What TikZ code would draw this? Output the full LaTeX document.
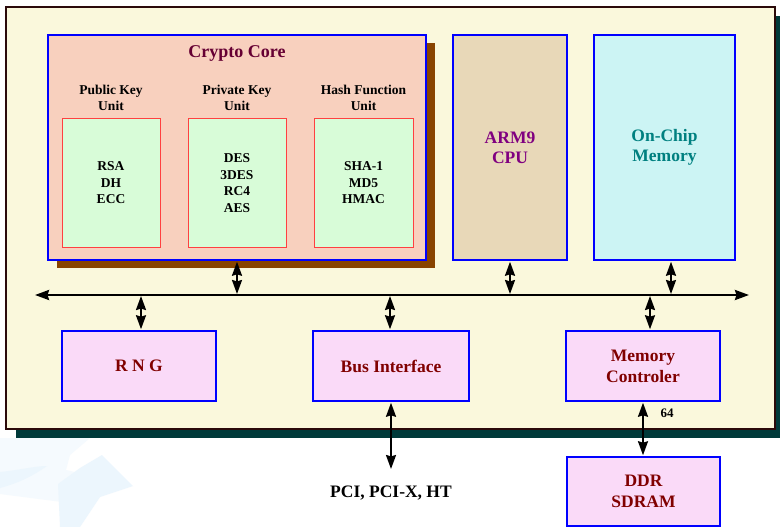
\documentclass[tikz,border=0pt]{standalone}
\usepackage{fontspec}
\setmainfont{Liberation Serif}
\usetikzlibrary{arrows.meta,shadows}
\definecolor{cream}{RGB}{250,248,220}
\definecolor{outerline}{RGB}{43,10,10}
\definecolor{tealshadow}{RGB}{0,58,58}
\definecolor{brownshadow}{RGB}{136,68,0}
\definecolor{salmon}{RGB}{248,208,190}
\definecolor{mint}{RGB}{216,252,216}
\definecolor{redline}{RGB}{255,64,64}
\definecolor{tan}{RGB}{232,216,184}
\definecolor{cyanfill}{RGB}{204,244,244}
\definecolor{pinkfill}{RGB}{250,218,248}
\definecolor{maroon}{RGB}{128,0,0}
\definecolor{titlecol}{RGB}{102,0,51}
\definecolor{purpletext}{RGB}{128,0,128}
\definecolor{tealtext}{RGB}{0,128,128}
\definecolor{wmA}{RGB}{245,250,254}
\definecolor{wmB}{RGB}{236,246,253}
\tikzset{
  bluebox/.style={draw={rgb,255:red,0;green,0;blue,255}, line width=1.5pt, rectangle, inner sep=0pt},
  unitbox/.style={draw=redline, line width=1pt, fill=mint, rectangle, inner sep=0pt,
     minimum width=98pt, minimum height=128pt, align=center, font=\fontsize{13.5}{16.5}\selectfont\bfseries},
  sublabel/.style={align=center, font=\fontsize{13.5}{16}\selectfont\bfseries},
  pinkbox/.style={bluebox, fill=pinkfill, minimum height=70pt, align=center, text=maroon,
     font=\fontsize{17.5}{21}\selectfont\bfseries},
  tipshape/.tip={Stealth[length=14pt 0 0,width=10pt 0 0,inset=1.5pt]},
  biarrow/.style={tipshape-tipshape, line width=2pt, shorten <=1pt, shorten >=1pt},
}
\begin{document}
\begin{tikzpicture}[x=1pt,y=-1pt]
\useasboundingbox (0,0) rectangle (780,527);
\fill[white] (0,0) rectangle (780,527);
% faint watermark
\fill[wmA] (0,438) -- (90,438) -- (70,455) -- (66,470) -- (110,480) -- (62,502) -- (0,494) -- cycle;
\fill[wmB] (80,468) -- (102,455) -- (133,486) -- (100,497) -- (80,527) -- (60,527) -- (58,484) -- cycle;
\fill[wmB] (0,472) .. controls (20,470) and (35,466) .. (47,466) .. controls (30,478) and (15,484) .. (0,488) -- cycle;
% outer board
\node[draw=outerline, line width=2.5pt, fill=cream, minimum width=769pt, minimum height=422pt,
      drop shadow={shadow xshift=10pt, shadow yshift=-9pt, opacity=1, fill=tealshadow}] (board) at (390.5,218) {};
% crypto core
\node[bluebox, fill=salmon, minimum width=378pt, minimum height=225pt,
      drop shadow={shadow xshift=9pt, shadow yshift=-8pt, opacity=1, fill=brownshadow}] (crypto) at (237,147.5) {};
\node[text=titlecol, font=\fontsize{18}{21}\selectfont\bfseries] (title) at (237,53) {Crypto Core};
\node[sublabel] (publab) at (111,98) {Public Key\\Unit};
\node[sublabel] (privlab) at (237,98) {Private Key\\Unit};
\node[sublabel] (hashlab) at (363.5,98) {Hash Function\\Unit};
\node[unitbox] (pub) at (111,183) {RSA\\DH\\ECC};
\node[unitbox] (priv) at (237,183) {DES\\3DES\\RC4\\AES};
\node[unitbox, minimum width=99pt] (hash) at (363.5,183) {SHA-1\\MD5\\HMAC};
% CPU and memory
\node[bluebox, fill=tan, minimum width=114pt, minimum height=225pt, align=center, text=purpletext,
      font=\fontsize{17.5}{20}\selectfont\bfseries] (arm) at (510,147.5) {ARM9\\CPU};
\node[bluebox, fill=cyanfill, minimum width=141pt, minimum height=225pt, align=center, text=tealtext,
      font=\fontsize{17.5}{20}\selectfont\bfseries] (onchip) at (664.5,147.5) {On-Chip\\Memory};
% bottom row
\node[pinkbox, minimum width=154pt] (rng) at (139,366) {R N G};
\node[pinkbox, minimum width=156pt] (bi) at (391,366) {Bus Interface};
\node[pinkbox, minimum width=154pt] (mc) at (643,366) {Memory\\Controler};
\node[pinkbox, minimum width=153pt, minimum height=69pt] (ddr) at (643.5,491.5) {DDR\\SDRAM};
% bus
\coordinate (busL) at (35,295);
\coordinate (busR) at (749,295);
\draw[{Stealth[length=14pt 0 0,width=10pt 0 0,inset=1.5pt]}-{Stealth[length=14pt 0 0,width=10pt 0 0,inset=1.5pt]}, line width=2.5pt] (busL) -- (busR);
% connectors
\draw[biarrow] (crypto.south) -- (crypto.south |- busL);
\draw[biarrow] (arm.south) -- (arm.south |- busL);
\draw[biarrow] ([xshift=6.5pt]onchip.south) -- ([xshift=6.5pt]onchip.south |- busL);
\draw[biarrow] ([xshift=2pt]rng.north) -- ([xshift=2pt]rng.north |- busL);
\draw[biarrow] ([xshift=-1pt]bi.north) -- ([xshift=-1pt]bi.north |- busL);
\draw[biarrow] ([xshift=7pt]mc.north) -- ([xshift=7pt]mc.north |- busL);
\coordinate (pci) at (391,470);
\draw[biarrow] (bi.south) -- (pci);
\draw[biarrow] (mc.south) -- (ddr.north -| mc.south);
\node[font=\fontsize{17.5}{21}\selectfont\bfseries] (pcitext) at (391,493) {PCI, PCI-X, HT};
\node[font=\fontsize{13}{15}\selectfont\bfseries] (w64) at (667,413) {64};
\end{tikzpicture}
\end{document}
